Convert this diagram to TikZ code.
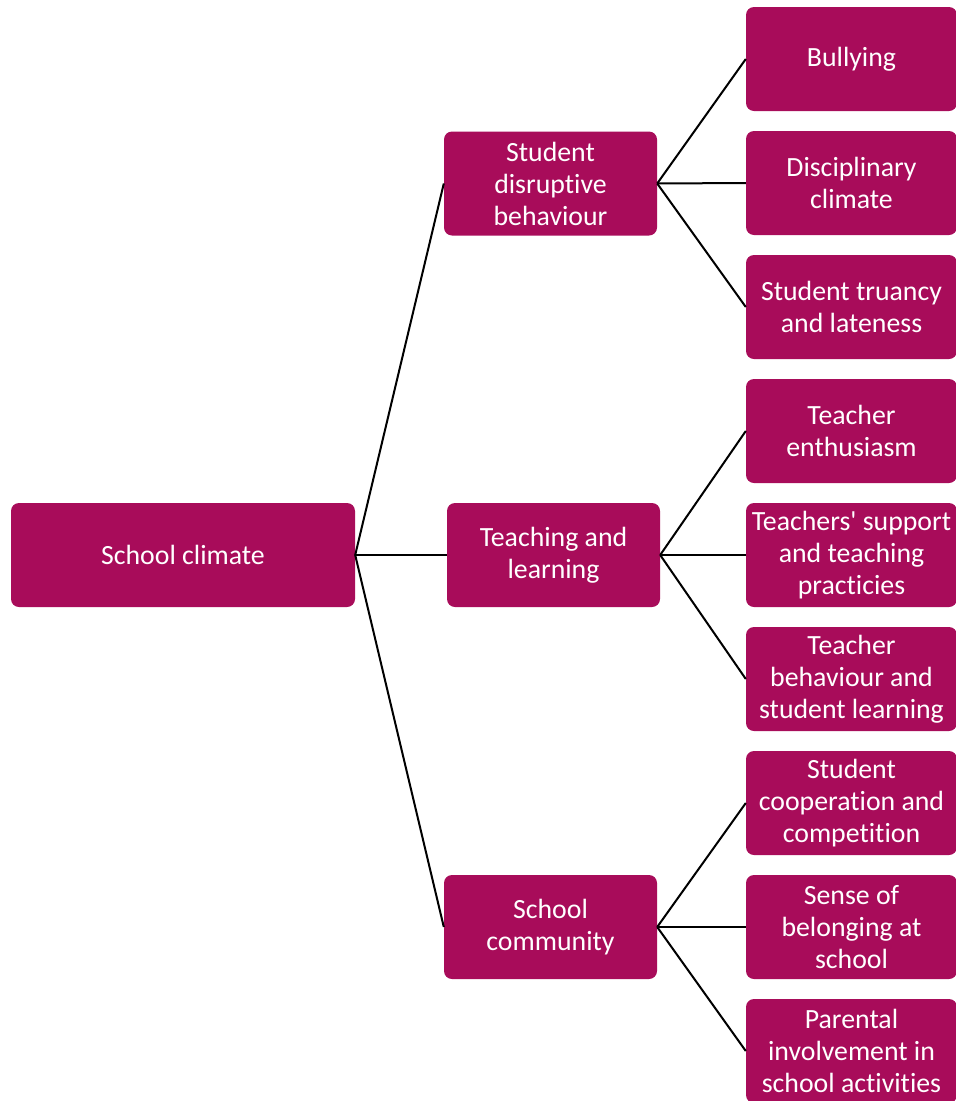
\documentclass[tikz,border=0pt]{standalone}
\usepackage{fontspec}
\setmainfont{Carlito}[Ligatures=NoCommon]
\definecolor{mag}{RGB}{168,12,90}
\begin{document}
\begin{tikzpicture}[x=1pt,y=-1pt,
  box/.style={fill=mag, rounded corners=8pt, text=white, align=center,
    font=\fontsize{27.8}{32}\selectfont, inner sep=0pt, minimum height=104pt},
  rootbox/.style={box, minimum width=344pt},
  midbox/.style={box, minimum width=213pt},
  leafbox/.style={box, minimum width=211pt},
  conn/.style={draw=black, line width=2pt}]
\useasboundingbox (0,0) rectangle (956,1101);
\node[rootbox] (root) at (183,555) {School climate};
\node[midbox] (m1) at (550.5,183.5) {Student\\disruptive\\behaviour};
\node[midbox] (m2) at (553.5,555) {Teaching and\\learning};
\node[midbox] (m3) at (550.5,927) {School\\community};
\node[leafbox] (l1) at (851.5,59) {Bullying};
\node[leafbox] (l2) at (851.5,183) {Disciplinary\\climate};
\node[leafbox] (l3) at (851.5,307) {Student truancy\\and lateness};
\node[leafbox] (l4) at (851.5,431) {Teacher\\enthusiasm};
\node[leafbox] (l5) at (851.5,555) {Teachers\textquotesingle{} support\\and teaching\\practicies};
\node[leafbox] (l6) at (851.5,679) {Teacher\\behaviour and\\student learning};
\node[leafbox] (l7) at (851.5,803) {Student\\cooperation and\\competition};
\node[leafbox] (l8) at (851.5,927) {Sense of\\belonging at\\school};
\node[leafbox] (l9) at (851.5,1051) {Parental\\involvement in\\school activities};
\foreach \m in {m1,m2,m3} \draw[conn] (root.east) -- (\m.west);
\foreach \l in {l1,l2,l3} \draw[conn] (m1.east) -- (\l.west);
\foreach \l in {l4,l5,l6} \draw[conn] (m2.east) -- (\l.west);
\foreach \l in {l7,l8,l9} \draw[conn] (m3.east) -- (\l.west);
\end{tikzpicture}
\end{document}
